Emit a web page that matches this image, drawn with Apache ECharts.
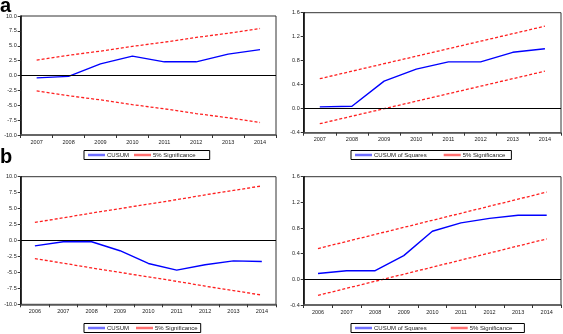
<!DOCTYPE html>
<html>
<head>
<meta charset="utf-8">
<script src="https://cdn.jsdelivr.net/npm/echarts@6/dist/echarts.min.js"></script>
<style>
  html, body { margin: 0; padding: 0; background: #fff; }
  #main { width: 563px; height: 334px; }
</style>
</head>
<body>
<div id="main"></div>
<script>
// data
var yearsA = ['2007', '2008', '2009', '2010', '2011', '2012', '2013', '2014'];
var cusumA = [-0.4, -0.15, 1.95, 3.25, 2.3, 2.3, 3.6, 4.35];
var cusumUpperA = [2.6, 3.4, 4.1, 4.9, 5.6, 6.4, 7.1, 7.9];
var cusumLowerA = [-2.6, -3.4, -4.1, -4.9, -5.6, -6.4, -7.1, -7.9];
var sqA = [0.03, 0.04, 0.46, 0.66, 0.78, 0.78, 0.94, 1.0];
var sqUpperA = [0.5, 0.625, 0.75, 0.875, 1.0, 1.125, 1.25, 1.375];
var sqLowerA = [-0.25, -0.125, 0, 0.125, 0.25, 0.375, 0.5, 0.625];

var yearsB = ['2006', '2007', '2008', '2009', '2010', '2011', '2012', '2013', '2014'];
var cusumB = [-0.85, -0.2, -0.2, -1.6, -3.6, -4.65, -3.8, -3.2, -3.3];
var cusumUpperB = [2.85, 3.55, 4.3, 5.0, 5.7, 6.4, 7.15, 7.85, 8.55];
var cusumLowerB = [-2.85, -3.55, -4.3, -5.0, -5.7, -6.4, -7.15, -7.85, -8.55];
var sqB = [0.09, 0.135, 0.135, 0.37, 0.75, 0.88, 0.95, 1.0, 1.0];
var sqUpperB = [0.48, 0.59, 0.7, 0.81, 0.92, 1.03, 1.14, 1.25, 1.36];
var sqLowerB = [-0.25, -0.14, -0.03, 0.08, 0.19, 0.3, 0.41, 0.52, 0.63];

var font = 'Liberation Sans, Arial, sans-serif';

// one panel = grid + axes + 3 series + legend
var panels = [
  { years: yearsA, line: cusumA, up: cusumUpperA, lo: cusumLowerA, name: 'CUSUM',
    min: -10, max: 10, step: 2.5,
    grid: { left: 20.7, top: 16, width: 255.3, height: 119 },
    legend: { left: 84, top: 150.5, padding: [1.5, 14, 1.5, 4], itemGap: 5 } },
  { years: yearsA, line: sqA, up: sqUpperA, lo: sqLowerA, name: 'CUSUM of Squares',
    min: -0.4, max: 1.6, step: 0.4,
    grid: { left: 303.7, top: 12.7, width: 257.3, height: 120 },
    legend: { left: 351, top: 150.5, padding: [1.5, 6, 1.5, 4], itemGap: 17 } },
  { years: yearsB, line: cusumB, up: cusumUpperB, lo: cusumLowerB, name: 'CUSUM',
    min: -10, max: 10, step: 2.5,
    grid: { left: 20.7, top: 176.7, width: 255.3, height: 127.6 },
    legend: { left: 84, top: 323.5, padding: [1.5, 3, 1.5, 4], itemGap: 7 } },
  { years: yearsB, line: sqB, up: sqUpperB, lo: sqLowerB, name: 'CUSUM of Squares',
    min: -0.4, max: 1.6, step: 0.4,
    grid: { left: 303.7, top: 176.7, width: 257.3, height: 128.3 },
    legend: { left: 351, top: 323.5, padding: [1.5, 12, 1.5, 4], itemGap: 24 } }
];

var option = {
  backgroundColor: '#fff',
  animation: false,
  title: [
    { text: 'a', left: 0, top: -4, padding: 0,
      textStyle: { fontSize: 20, fontWeight: 'bold', color: '#000', fontFamily: font } },
    { text: 'b', left: 0, top: 147, padding: 0,
      textStyle: { fontSize: 20, fontWeight: 'bold', color: '#000', fontFamily: font } }
  ],
  grid: [],
  xAxis: [],
  yAxis: [],
  legend: [],
  series: []
};

panels.forEach(function (p, i) {
  option.grid.push(Object.assign({ show: true, borderColor: '#333', borderWidth: 1 }, p.grid));
  option.xAxis.push({
    type: 'category', gridIndex: i, data: p.years, boundaryGap: true,
    axisLine: { onZero: false, lineStyle: { color: '#555', width: 1.5 } },
    axisTick: { show: true, length: 3, lineStyle: { color: '#333' } },
    axisLabel: { fontSize: 5.5, color: '#222', margin: 4, fontFamily: font }
  });
  option.yAxis.push({
    type: 'value', gridIndex: i, min: p.min, max: p.max, interval: p.step,
    axisLine: { show: true, lineStyle: { color: '#000', width: 1.5 } },
    axisTick: { show: true, length: 3, lineStyle: { color: '#333' } },
    splitLine: { show: false },
    axisLabel: { fontSize: 5.5, color: '#222', margin: 4, fontFamily: font,
      formatter: function (v) { return v.toFixed(1); } }
  });
  option.legend.push(Object.assign({
    orient: 'horizontal',
    borderColor: '#000', borderWidth: 1, borderRadius: 0,
    itemWidth: 17, itemHeight: 2.5,
    textStyle: { fontSize: 6, color: '#222', fontFamily: font, padding: [0, 0, 0, -3] },
    data: [
      { name: p.name + (i === 0 ? '' : ''), icon: 'rect', itemStyle: { color: '#6f6fff' } },
      { name: '5% Significance', icon: 'rect', itemStyle: { color: '#ff7070' } }
    ]
  }, p.legend));

  option.series.push({
    name: p.name, type: 'line', xAxisIndex: i, yAxisIndex: i,
    data: p.line, symbol: 'none', z: 3,
    lineStyle: { color: '#0000ff', width: 1.4 },
    itemStyle: { color: '#0000ff' },
    markLine: {
      silent: true, symbol: 'none', label: { show: false },
      lineStyle: { color: '#000', width: 1, type: 'solid' },
      data: [{ yAxis: 0 }]
    }
  });
  [p.up, p.lo].forEach(function (d) {
    option.series.push({
      name: '5% Significance', type: 'line', xAxisIndex: i, yAxisIndex: i,
      data: d, symbol: 'none', z: 2,
      lineStyle: { color: '#ff2020', width: 1.3, type: [3, 2] },
      itemStyle: { color: '#ff2020' }
    });
  });
});

var chart = echarts.init(document.getElementById('main'), null, { renderer: 'canvas' });
chart.setOption(option);
</script>
</body>
</html>
